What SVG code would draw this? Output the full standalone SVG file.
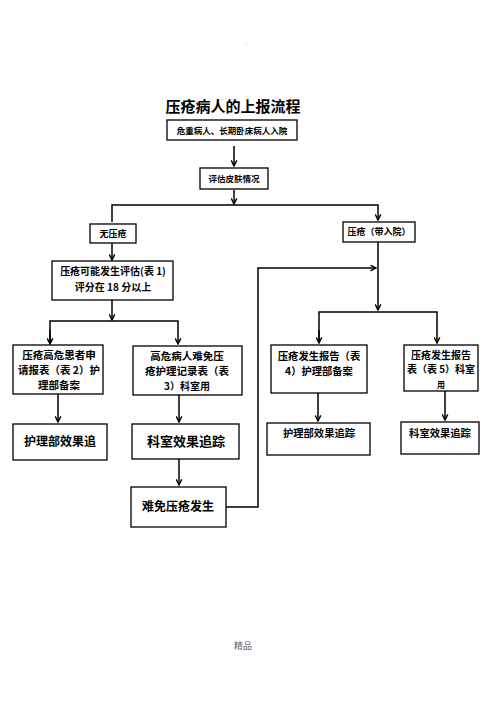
<svg xmlns="http://www.w3.org/2000/svg" width="496" height="702" viewBox="0 0 496 702">
<style>
.box{fill:#fff;stroke:#000;stroke-width:1.3}
.t{font-family:"Noto Sans CJK SC","Noto Sans",sans-serif;font-weight:bold;fill:#000;text-anchor:middle}
.c{fill:none;stroke:#000;stroke-width:1.5}
</style>
<defs>
<marker id="ah" viewBox="0 0 10 10" refX="9" refY="5" markerWidth="7" markerHeight="7" orient="auto" markerUnits="userSpaceOnUse">
<path d="M1,1 L9,5 L1,9" fill="none" stroke="#000" stroke-width="2"/>
</marker>
</defs>
<rect width="496" height="702" fill="#fff"/>
<text x="246" y="45" font-family="Liberation Sans,sans-serif" font-size="8" fill="#888" text-anchor="middle">.</text>
<text x="233" y="112" class="t" font-size="15">压疮病人的上报流程</text>

<g id="connectors">
<path class="c" d="M234,146 V166" marker-end="url(#ah)"/>
<path class="c" d="M234,190 V204"  marker-end="url(#ah)"/>
<path class="c" d="M112,222 V205 H378 V220" marker-end="url(#ah)"/>
<path class="c" d="M112,243 V260" marker-end="url(#ah)"/>
<path class="c" d="M378,242 V310" marker-end="url(#ah)"/>
<path class="c" d="M226,507 H258 V268 H376" marker-end="url(#ah)"/>
<path class="c" d="M112,300 V320" marker-end="url(#ah)"/>
<path class="c" d="M50,344 V321 H178 V344" marker-end="url(#ah)"/>
<path class="c" d="M50,330 V344" marker-end="url(#ah)"/>
<path class="c" d="M319,343 V312 H437 V343" marker-end="url(#ah)"/>
<path class="c" d="M319,330 V343" marker-end="url(#ah)"/>
<path class="c" d="M58,394 V422" marker-end="url(#ah)"/>
<path class="c" d="M179,395 V422" marker-end="url(#ah)"/>
<path class="c" d="M179,459 V485" marker-end="url(#ah)"/>
<path class="c" d="M318,393 V421" marker-end="url(#ah)"/>
<path class="c" d="M445,391 V420" marker-end="url(#ah)"/>
</g>

<g id="n1"><rect class="box" x="167" y="120" width="130" height="20"/><text x="232" y="133.5" class="t" font-size="8.5">危重病人、长期卧床病人入院</text></g>
<g id="n2"><rect class="box" x="200" y="168" width="68" height="21"/><text x="234" y="181.5" class="t" font-size="8.5">评估皮肤情况</text></g>
<g id="n3"><rect class="box" x="90" y="224" width="46" height="19"/><text x="113" y="236.5" class="t" font-size="9">无压疮</text></g>
<g id="n4"><rect class="box" x="343" y="222" width="72" height="20"/><text x="379" y="235" class="t" font-size="9">压疮（带入院）</text></g>
<g id="n5"><rect class="box" x="52" y="261" width="121" height="39"/><text x="113" y="275" class="t" font-size="10">压疮可能发生评估(表 1)</text><text x="113" y="291" class="t" font-size="10">评分在 18 分以上</text></g>
<g id="n6"><rect class="box" x="13" y="345" width="90" height="49"/><text x="59" y="359" class="t" font-size="10.5">压疮高危患者申</text><text x="59" y="374" class="t" font-size="10.5">请报表（表 2）护</text><text x="59" y="389" class="t" font-size="10.5">理部备案</text></g>
<g id="n7"><rect class="box" x="133" y="346" width="109" height="49"/><text x="187" y="360" class="t" font-size="10.5">高危病人难免压</text><text x="187" y="375" class="t" font-size="10.5">疮护理记录表（表</text><text x="187" y="390" class="t" font-size="10">3）科室用</text></g>
<g id="n8"><rect class="box" x="271" y="345" width="96" height="48"/><text x="319" y="360" class="t" font-size="10.3">压疮发生报告（表</text><text x="319" y="375" class="t" font-size="10.3">4）护理部备案</text></g>
<g id="n9"><rect class="box" x="404" y="345" width="74" height="46"/><text x="441" y="359" class="t" font-size="10">压疮发生报告</text><text x="441" y="373" class="t" font-size="10">表（表 5）科室</text><text x="441" y="388" class="t" font-size="8">用</text></g>
<g id="n10"><rect class="box" x="13" y="424" width="94" height="36"/><text x="60" y="446" class="t" font-size="12">护理部效果追</text></g>
<g id="n11"><rect class="box" x="132" y="424" width="107" height="35"/><text x="186" y="446" class="t" font-size="13">科室效果追踪</text></g>
<g id="n12"><rect class="box" x="131" y="487" width="95" height="40"/><text x="178" y="511" class="t" font-size="12">难免压疮发生</text></g>
<g id="n13"><rect class="box" x="267" y="423" width="103" height="32"/><text x="319" y="437" class="t" font-size="10.3">护理部效果追踪</text></g>
<g id="n14"><rect class="box" x="401" y="422" width="78" height="32"/><text x="440" y="437" class="t" font-size="10.3">科室效果追踪</text></g>
<text x="243" y="649" font-family="Noto Sans CJK SC,sans-serif" font-size="9" fill="#666" text-anchor="middle">精品</text>
</svg>
